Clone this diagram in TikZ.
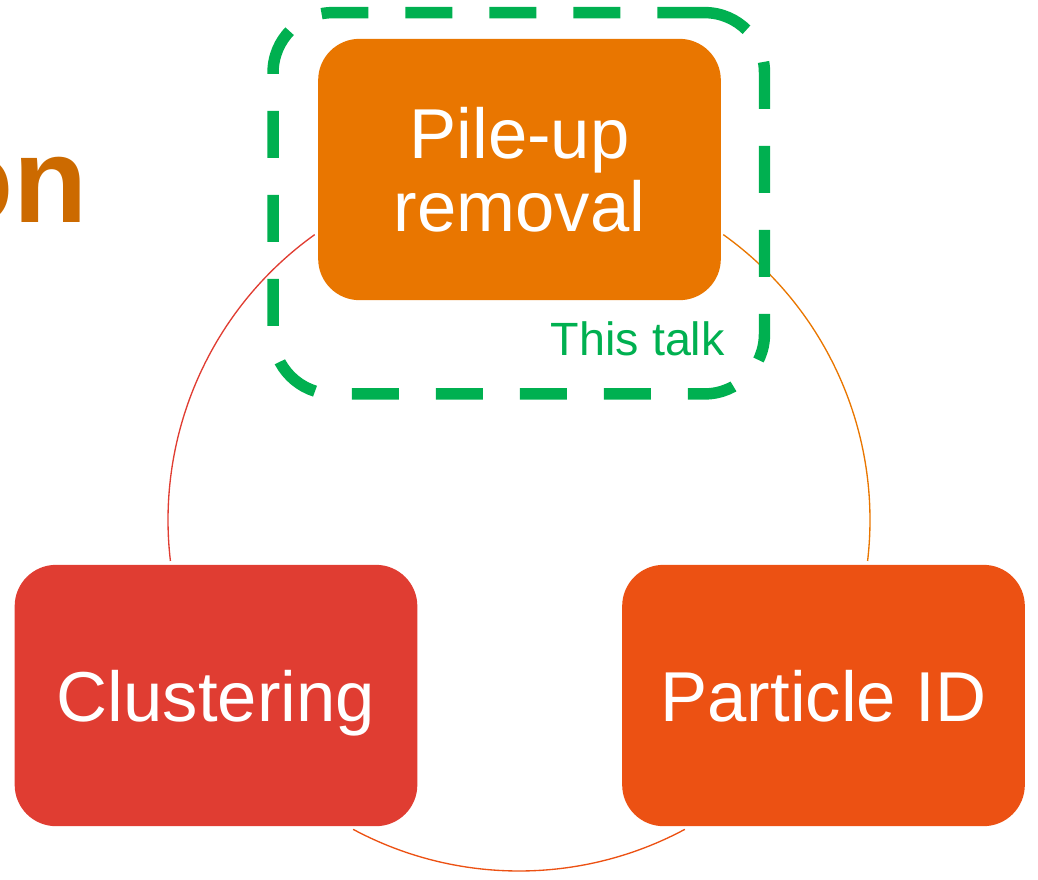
\documentclass[tikz,border=0pt]{standalone}
\usepackage{fontspec}
\setmainfont{Liberation Sans}
\usetikzlibrary{positioning}
\definecolor{pileorange}{RGB}{233,118,0}
\definecolor{clusterred}{RGB}{224,61,50}
\definecolor{pidorange}{RGB}{236,81,19}
\definecolor{talkgreen}{RGB}{0,176,80}
\definecolor{titleorange}{RGB}{204,106,0}

\begin{document}
\begin{tikzpicture}[
  x=0.75pt, y=-0.75pt,
  stage/.style={rounded corners=31pt, minimum width=302pt, minimum height=196pt, align=center, text=white, inner sep=0pt, text depth=0pt, font=\fontsize{53}{55}\selectfont},
  ring/.style={line width=1pt},
  focus/.style={draw=talkgreen, line width=8.6pt, dash pattern=on 35.25pt off 27.75pt, rounded corners=45pt, minimum width=368.6pt, minimum height=286pt},
  talk/.style={text=talkgreen, inner sep=0pt, font=\fontsize{35}{40}\selectfont},
  heading/.style={text=titleorange, inner sep=0pt, font=\fontsize{91}{100}\selectfont\bfseries},
]
\useasboundingbox (0,0) rectangle (1038,879);
\clip (0,0) rectangle (1038,879);
% ================= title fragment =================
\node[heading, anchor=base east] (title) at (88,222) {on};
% ================= cycle =================
\coordinate (hub) at (519,520);
\draw[ring, clusterred] (hub) ++(125.6:263.25pt) arc[start angle=125.6, end angle=186.7, radius=263.25pt];
\draw[ring, pileorange] (hub) ++(54.4:263.25pt) arc[start angle=54.4, end angle=-6.7, radius=263.25pt];
\draw[ring, pidorange] (hub) ++(241.8:263.25pt) arc[start angle=241.8, end angle=298.2, radius=263.25pt];
\node[stage, fill=pileorange] (pileup) at (519.5,169.5) {Pile-up\\removal};
\node[stage, fill=clusterred] (cluster) at (216,695.5) {Clustering};
\node[stage, fill=pidorange] (pid) at (823.5,695.5) {Particle ID};
% ================= focus box =================
\node[focus] (talkbox) at (518.75,203.25) {};
\node[talk, anchor=base east] (thistalk) at (725,355) {This talk};
\end{tikzpicture}
\end{document}
